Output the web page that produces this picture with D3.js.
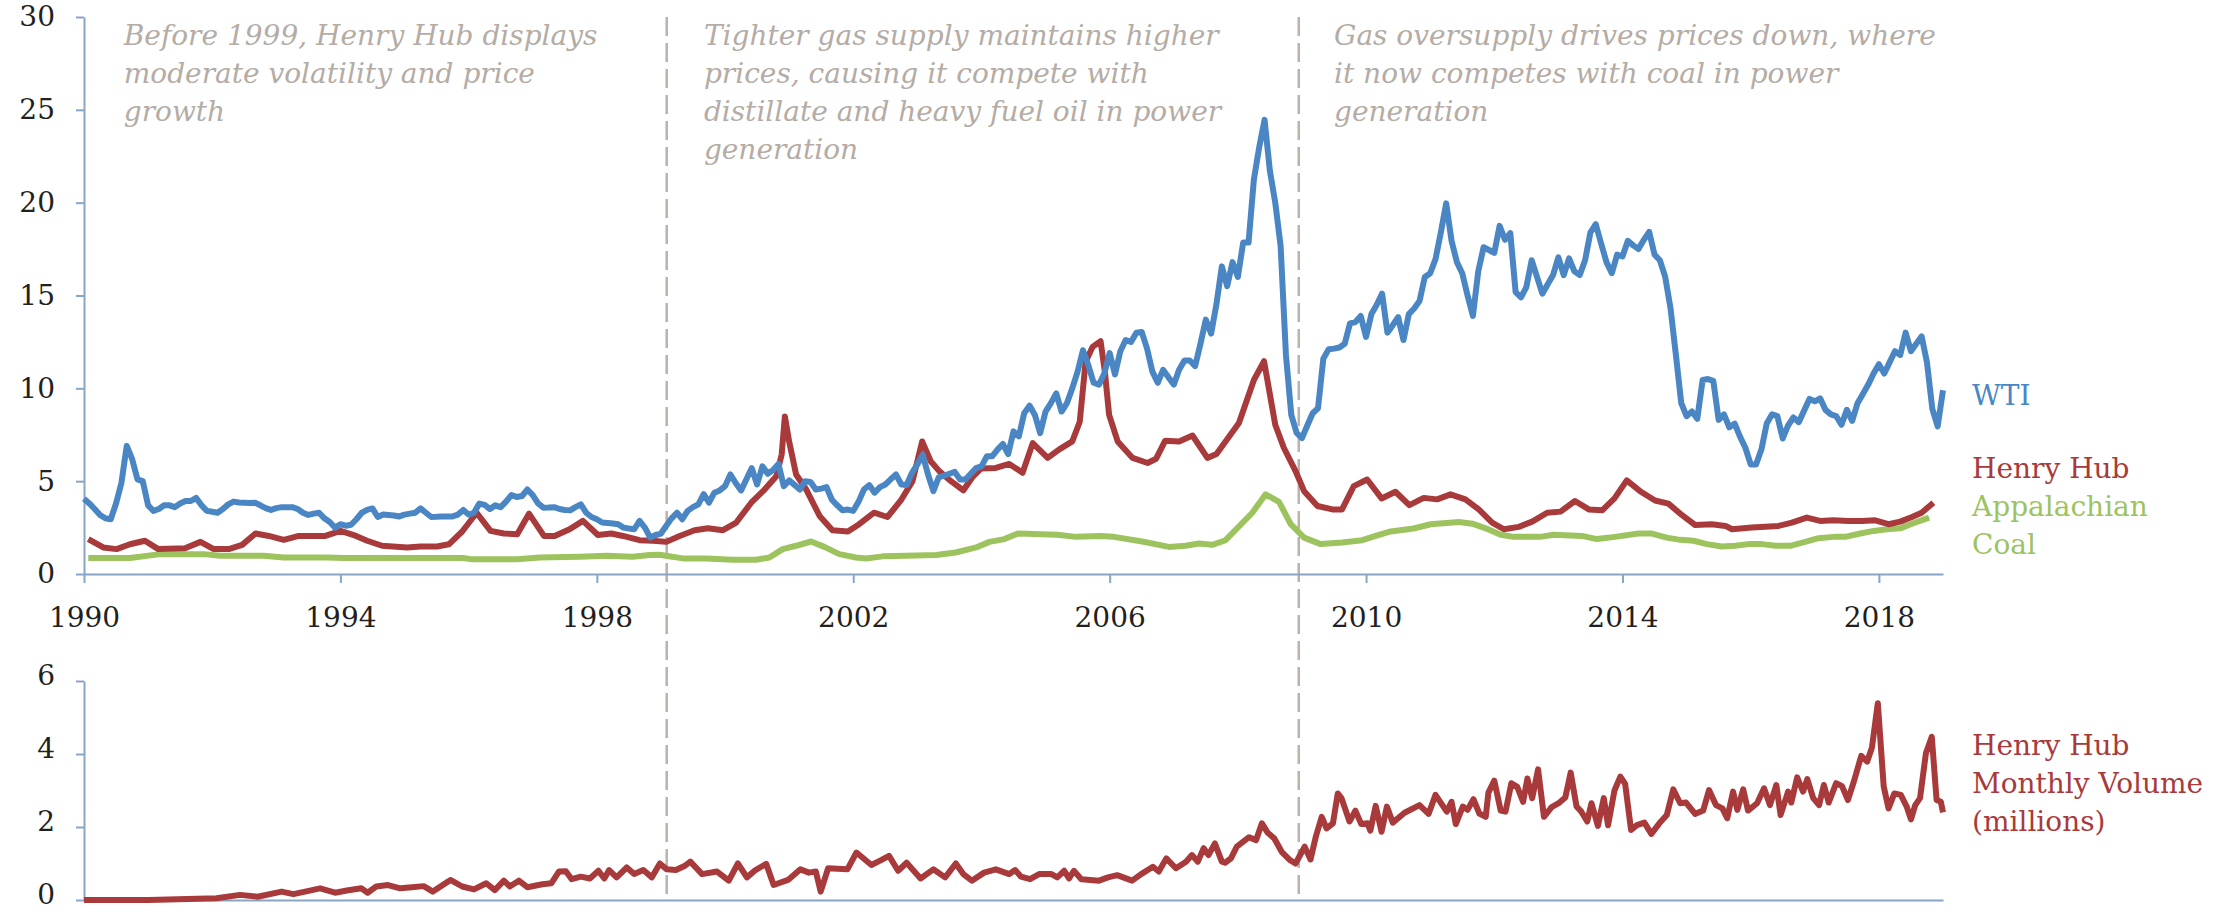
<!DOCTYPE html>
<html>
<head>
<meta charset="utf-8">
<script src="https://cdn.jsdelivr.net/npm/d3@7"></script>
<style>
  body { margin: 0; background: #fff; }
</style>
</head>
<body>
<div class="canvas"></div>
<script>
// x values are months counted from Jan 1990 (0 = Jan 1990)
// WTI, $/MMBtu, one value per month from Jan 1990
const wtiMonthly = [
  4.05, 3.8, 3.5, 3.18, 3.0, 2.95, 3.8, 4.9, 6.9, 6.2, 5.1, 5.0,
  3.7, 3.4, 3.5, 3.7, 3.7, 3.6, 3.8, 3.93, 3.93, 4.1, 3.7, 3.4,
  3.35, 3.3, 3.5, 3.75, 3.9, 3.85, 3.84, 3.82, 3.84, 3.7, 3.55, 3.45,
  3.55, 3.6, 3.6, 3.6, 3.5, 3.3, 3.18, 3.25, 3.3, 3.0, 2.8, 2.5,
  2.68, 2.6, 2.65, 2.95, 3.3, 3.45, 3.53, 3.07, 3.2, 3.18, 3.15, 3.1,
  3.2, 3.25, 3.3, 3.53, 3.3, 3.07, 3.08, 3.1, 3.1, 3.1, 3.2, 3.45,
  3.2, 3.3, 3.79, 3.72, 3.5, 3.7, 3.6, 3.9, 4.25, 4.15, 4.2, 4.55,
  4.25, 3.8, 3.57, 3.58, 3.6, 3.5, 3.45, 3.43, 3.6, 3.75, 3.3, 3.07,
  2.95, 2.77, 2.75, 2.72, 2.68, 2.5, 2.45, 2.41, 2.86, 2.5, 1.96, 2.1,
  2.18, 2.6, 3.0, 3.3, 2.95, 3.4, 3.6, 3.75, 4.3, 3.84, 4.38, 4.5,
  4.73, 5.36, 4.9, 4.5, 5.1, 5.7, 4.82, 5.8, 5.4, 5.6, 5.93, 4.73,
  5.04, 4.8, 4.55, 5.0, 4.96, 4.55, 4.6, 4.68, 4.0, 3.7, 3.43, 3.47,
  3.4, 3.9, 4.55, 4.79, 4.38, 4.68, 4.82, 5.1, 5.36, 4.82, 4.79, 5.45,
  5.9, 6.43, 5.36, 4.46, 5.21, 5.3, 5.4, 5.5, 5.09, 5.09, 5.4, 5.7,
  5.8, 6.34, 6.34, 6.7, 7.0, 6.46, 7.68, 7.41, 8.66, 9.07, 8.57, 7.59,
  8.75, 9.2, 9.73, 8.75, 9.2, 10.0, 10.9, 12.05, 11.25, 10.3, 10.2, 10.8,
  11.9, 10.75, 12.0, 12.6, 12.5, 13.0, 13.04, 12.14, 10.9, 10.3, 11.0, 10.6,
  10.2, 11.0, 11.5, 11.5, 11.2, 12.4, 13.7, 12.95, 14.55, 16.57, 15.5, 16.8,
  16.0, 17.86, 17.86, 21.25, 23.0, 24.46, 21.7, 20.0, 17.68, 11.8, 8.57, 7.6,
  7.32, 8.0, 8.66, 8.93, 11.6, 12.1, 12.14, 12.2, 12.4, 13.5, 13.57, 13.9,
  12.77, 14.0, 14.5, 15.1, 13.0, 13.4, 13.84, 12.6, 14.0, 14.3, 14.7, 16.0,
  16.2, 16.96, 18.4, 19.96, 17.95, 16.8, 16.2, 15.0, 13.9, 16.3, 17.6, 17.45,
  17.3, 18.75, 18.0, 18.36, 15.18, 14.9, 15.45, 16.9, 16.0, 15.1, 15.6, 16.1,
  17.05, 16.1, 17.0, 16.3, 16.1, 16.9, 18.4, 18.84, 17.8, 16.8, 16.2, 17.2,
  17.1, 17.95, 17.7, 17.5, 18.0, 18.43, 17.2, 16.9, 16.0, 14.3, 11.8, 9.2,
  8.5, 8.75, 8.36, 10.45, 10.5, 10.4, 8.3, 8.6, 7.9, 8.1, 7.4, 6.8,
  5.9, 5.9, 6.7, 8.1, 8.6, 8.5, 7.3, 8.0, 8.43, 8.18, 8.8, 9.43,
  9.3, 9.46, 8.84, 8.6, 8.5, 8.04, 8.84, 8.25, 9.2, 9.7, 10.2, 10.8,
  11.3, 10.8, 11.4, 12.0, 11.8, 13.0, 12.0, 12.4, 12.8, 11.4, 8.9, 7.95,
  9.9
];

// Henry Hub spot, [month, $/MMBtu]
const henryHub = [
  [0.8,1.88],[3.6,1.43],[6.1,1.34],[8.6,1.6],[11.4,1.79],[13.9,1.34],[18.9,1.39],[21.8,1.73],
  [24.3,1.34],[27.1,1.34],[29.6,1.57],[32.1,2.18],[34.6,2.05],[37.4,1.84],[40.2,2.05],[45.2,2.05],
  [48,2.32],[50.5,2.1],[53,1.79],[55.8,1.52],[60.5,1.43],[63,1.48],[66.1,1.48],[68.3,1.6],
  [70.8,2.29],[73.5,3.3],[76.1,2.32],[78.6,2.18],[81.1,2.14],[83.3,3.25],[86.1,2.05],[88.1,2.05],
  [90.9,2.41],[93.4,2.86],[96.2,2.1],[98.7,2.18],[100.9,2.05],[104,1.82],[106.5,1.79],[109,1.73],
  [111.5,2.05],[114.3,2.36],[116.8,2.46],[119.6,2.36],[122.1,2.77],[124.9,3.84],[127.4,4.55],[129.6,5.27],
  [130.6,6.43],[131.2,8.48],[132,7.14],[133.3,5.36],[135.2,4.55],[137.7,3.13],[140.1,2.36],[143,2.29],
  [145.1,2.68],[147.9,3.3],[150.4,3.07],[152.9,3.96],[155.1,5.0],[156.9,7.14],[158.5,6.07],[160.1,5.54],
  [162.3,5.0],[164.6,4.5],[166.3,5.21],[167.9,5.68],[170.7,5.71],[173.2,5.93],[175.7,5.45],[177.6,7.05],
  [180.4,6.25],[182.5,6.7],[185,7.14],[186.4,8.2],[187.5,11.43],[188.8,12.23],[190.3,12.54],[191.1,10.9],
  [191.9,8.57],[193.5,7.14],[196.3,6.25],[199.1,5.98],[200.7,6.21],[202.4,7.18],[205,7.14],[207.5,7.46],
  [210.3,6.25],[212,6.46],[216.2,8.13],[219,10.45],[220.9,11.46],[223,8.04],[224.6,6.8],[226.8,5.54],
  [228.4,4.46],[230.9,3.66],[233.7,3.48],[235.5,3.48],[237.7,4.73],[240.2,5.09],[242.9,4.07],[245.5,4.43],
  [248.1,3.71],[250.8,4.1],[253.3,4.02],[255.8,4.29],[258.6,4.02],[261.1,3.48],[263.6,2.77],[265.8,2.41],
  [268.6,2.54],[271.1,2.82],[273.9,3.3],[276.4,3.36],[279.1,3.93],[281.7,3.48],[284.2,3.43],[286.5,4.07],
  [288.8,5.04],[291.3,4.46],[294.1,3.96],[296.6,3.79],[299.1,3.18],[301.6,2.64],[304.7,2.68],[307.3,2.59],
  [308.5,2.41],[312.2,2.5],[317.2,2.59],[319.7,2.77],[322.5,3.04],[325,2.86],[327.5,2.89],[330.3,2.86],
  [332.8,2.86],[335.3,2.89],[337.8,2.68],[340,2.82],[342.2,3.07],[344,3.3],[346.2,3.84]
];

// Appalachian coal, [month, $/MMBtu]
const coal = [
  [0.8,0.86],[8.6,0.86],[14.3,1.07],[22.4,1.07],[25.5,0.98],[33.6,0.98],[37.4,0.89],[45.5,0.89],
  [48.6,0.86],[71,0.86],[72.4,0.8],[81.1,0.8],[85.3,0.89],[92.8,0.93],[97.8,0.98],[102.7,0.93],
  [105.9,1.02],[107.7,1.04],[108.9,0.98],[112.1,0.84],[116.5,0.84],[121.4,0.77],[125.8,0.77],[128.3,0.89],
  [130.8,1.34],[133.3,1.52],[136.1,1.75],[138.6,1.46],[141.4,1.07],[144.5,0.89],[146.4,0.84],[149.5,0.95],
  [153.9,0.98],[159.5,1.02],[163.2,1.16],[167,1.43],[169.5,1.73],[172.3,1.88],[174.8,2.18],[182.2,2.11],
  [185.7,2.0],[190.3,2.05],[192.8,2.0],[198.1,1.75],[203.1,1.46],[206.2,1.52],[208.7,1.64],[211.2,1.57],
  [213.7,1.82],[218.7,3.3],[221.2,4.29],[223.7,3.89],[225.9,2.68],[228.4,1.96],[231.5,1.61],[235.5,1.7],
  [239.3,1.82],[241.8,2.05],[244.6,2.29],[248.9,2.45],[252.1,2.68],[257.4,2.8],[259.9,2.71],[262.4,2.46],
  [265.2,2.11],[267.6,2.0],[272.6,2.0],[275.1,2.11],[280.4,2.05],[283.2,1.88],[286.6,2.0],[291,2.18],
  [293.5,2.18],[296.3,1.96],[298.8,1.84],[301.3,1.79],[303.8,1.61],[306.6,1.48],[309.1,1.52],[311.6,1.61],
  [314.1,1.61],[316.6,1.52],[319.4,1.52],[322.2,1.73],[324.7,1.93],[327.5,2.0],[329.7,2.0],[332.5,2.18],
  [335,2.32],[337.5,2.41],[340,2.46],[342.8,2.77],[345.4,3.04]
];

// Henry Hub futures monthly volume (millions), [month, value]
const hhVolume = [
  [0,0],[12,0],[24.8,0.05],[29.2,0.14],[32.5,0.09],[37,0.23],[39.2,0.16],[41.4,0.23],[44.2,0.32],[47,0.2],
  [49.2,0.26],[51.9,0.32],[53.1,0.2],[54.7,0.37],[56.9,0.41],[59.2,0.32],[61.4,0.35],[63.6,0.38],[65.3,0.23],
  [68.6,0.55],[70.8,0.37],[73,0.29],[75.3,0.46],[76.9,0.27],[78.6,0.53],[79.7,0.37],[81.4,0.53],[83,0.35],
  [85.8,0.43],[87.5,0.46],[88.9,0.78],[90.2,0.79],[91.3,0.57],[93,0.64],[94.7,0.59],[96.3,0.8],[97.4,0.59],
  [98.3,0.82],[99.7,0.62],[101.6,0.89],[103,0.71],[104.7,0.82],[106.3,0.62],[107.8,1.0],[109.1,0.84],
  [110.8,0.82],[112.4,0.93],[113.5,1.05],[115.7,0.71],[118.5,0.78],[120.7,0.53],[122.4,1.0],[124.1,0.62],
  [125.7,0.82],[127.7,0.99],[129.1,0.41],[131.8,0.55],[134.1,0.84],[135.7,0.75],[137,0.78],[137.9,0.23],
  [139.3,0.87],[142.9,0.84],[144.6,1.3],[147.4,0.96],[149.3,1.1],[150.7,1.21],[152.4,0.8],[154,1.02],
  [156.6,0.59],[159,0.84],[161.2,0.62],[163.2,1.0],[164.6,0.71],[166.2,0.53],[168.5,0.75],[170.7,0.84],
  [173.2,0.71],[174.3,0.82],[175.4,0.64],[177.1,0.57],[178.8,0.71],[181.1,0.71],[182.2,0.62],[183.5,0.8],
  [184.4,0.59],[185.3,0.8],[186.7,0.57],[190,0.53],[191.7,0.62],[193.4,0.68],[196.2,0.53],[197.9,0.71],
  [200.1,0.91],[201.2,0.78],[202.6,1.14],[204.4,0.87],[206.3,1.05],[207.4,1.23],[208.5,1.05],[209.6,1.42],
  [210.5,1.23],[211.7,1.55],[213,1.05],[213.6,1.02],[214.7,1.14],[215.8,1.46],[218.1,1.72],[219.4,1.64],
  [220.5,2.1],[221.6,1.84],[222.8,1.69],[224.2,1.32],[225.7,1.1],[226.8,1.0],[228.5,1.46],[229.6,1.11],
  [230.6,1.74],[231.7,2.28],[232.6,1.96],[233.8,2.1],[234.7,2.92],[235.4,2.79],[236.9,2.15],[238,2.45],
  [239.1,2.08],[240.3,2.1],[240.8,1.9],[241.8,2.58],[242.9,1.87],[243.9,2.56],[245,2.12],[247.2,2.39],
  [250,2.6],[251.7,2.36],[253,2.88],[255.1,2.42],[256,2.69],[256.8,2.08],[258.1,2.56],[259,2.47],
  [260.1,2.76],[261.2,2.37],[262.4,2.28],[262.9,2.94],[264,3.27],[265.2,2.45],[266.1,2.42],[267.2,3.2],
  [268.3,3.1],[269.4,2.69],[270.2,3.33],[271.1,2.79],[272.2,3.58],[273.3,2.28],[274.7,2.54],[276.2,2.67],
  [277.3,2.81],[278.3,3.49],[279.4,2.56],[280.3,2.42],[281.4,2.15],[282.2,2.65],[283.4,2.03],[284.5,2.79],
  [285.3,2.05],[286.5,3.0],[287.6,3.38],[288.5,3.18],[289.6,1.92],[290.7,2.05],[292.1,2.12],[293.4,1.81],
  [294.9,2.1],[296.3,2.33],[297.5,3.03],[298.8,2.65],[299.9,2.67],[301.6,2.36],[303.1,2.45],[304.2,3.01],
  [305.5,2.6],[306.7,2.51],[307.6,2.24],[308.7,2.97],[309.5,2.47],[310.6,3.03],[311.5,2.45],[313.2,2.65],
  [314.5,3.06],[315.6,2.6],[316.8,3.15],[317.6,2.33],[319,2.97],[319.6,2.67],[320.7,3.36],[321.8,2.97],
  [322.6,3.31],[323.7,2.79],[324.8,2.6],[325.7,3.15],[326.6,2.67],[328,3.2],[329.1,3.12],[330.2,2.74],
  [331.3,3.24],[332.7,3.95],[333.8,3.79],[334.7,4.18],[335.8,5.39],[336.9,3.11],[337.8,2.51],[338.9,2.92],
  [340.1,2.88],[341.2,2.56],[342,2.21],[342.8,2.6],[343.7,2.79],[344.8,4.02],[345.9,4.47],[346.8,2.74],
  [347.6,2.69],[348,2.4]
];

const yearTicks = [1990, 1994, 1998, 2002, 2006, 2010, 2014, 2018];
const priceTicks = [0, 5, 10, 15, 20, 25, 30];
const volumeTicks = [0, 2, 4, 6];
const dividers = [1999.09, 2008.95];
const annotations = [
  { year: 1990.62, lines: ['Before 1999, Henry Hub displays', 'moderate volatility and price', 'growth'] },
  { year: 1999.67, lines: ['Tighter gas supply maintains higher', 'prices, causing it compete with', 'distillate and heavy fuel oil in power', 'generation'] },
  { year: 2009.5, lines: ['Gas oversupply drives prices down, where', 'it now competes with coal in power', 'generation'] }
];

const blue = '#4a86c4', red = '#a93a3b', green = '#9dc35f';
const axisColor = '#88a5c6', noteColor = '#b4aca5', inkColor = '#231f20';
const font = "'DejaVu Serif', serif";

const svg = d3.select('.canvas')
  .append('svg')
    .attr('width', 2239)
    .attr('height', 911)
    .style('background-color', 'white');

const x = d3.scaleLinear().domain([1990, 2019]).range([84, 1943]);
const yTop = d3.scaleLinear().domain([0, 30]).range([574, 17]);
const yBot = d3.scaleLinear().domain([0, 6]).range([900, 681]);
const monthToYear = m => 1990 + m / 12;

function styleAxis(g) {
  g.select('.domain').attr('stroke', axisColor).attr('stroke-width', 2);
  g.selectAll('.tick line').attr('stroke', axisColor).attr('stroke-width', 2);
  g.selectAll('.tick text')
    .attr('fill', inkColor)
    .style('font-family', font)
    .style('font-size', '28px');
}

// divider lines
svg.selectAll('.divider')
  .data(dividers)
  .enter()
  .append('line')
    .attr('x1', d => x(d)).attr('x2', d => x(d))
    .attr('y1', yTop(30)).attr('y2', yBot(0))
    .attr('stroke', '#bbb3ab')
    .attr('stroke-width', 2.5)
    .attr('stroke-dasharray', '19 7');

// top axes
svg.append('g')
  .attr('transform', `translate(0,${yTop(0)})`)
  .call(d3.axisBottom(x).tickValues(yearTicks).tickFormat(d3.format('d')).tickSize(9).tickSizeOuter(0).tickPadding(24))
  .call(styleAxis);

svg.append('g')
  .attr('transform', `translate(${x(1990)},0)`)
  .call(d3.axisLeft(yTop).tickValues(priceTicks).tickFormat(d3.format('d')).tickSize(8).tickSizeOuter(0).tickPadding(21))
  .call(styleAxis);

// bottom axes
svg.append('g')
  .attr('transform', `translate(0,${yBot(0)})`)
  .call(d3.axisBottom(x).tickValues([]).tickSizeOuter(0))
  .call(styleAxis);

svg.append('g')
  .attr('transform', `translate(${x(1990)},0)`)
  .call(d3.axisLeft(yBot).tickValues(volumeTicks).tickFormat(d3.format('d')).tickSize(8).tickSizeOuter(0).tickPadding(21))
  .call(styleAxis)
  .selectAll('.tick text')
    .attr('dy', '0.12em');

// price lines
const priceLine = d3.line()
  .x(d => x(monthToYear(d[0])))
  .y(d => yTop(d[1]));

const priceSeries = [
  { data: coal, color: green },
  { data: henryHub, color: red },
  { data: wtiMonthly.map((v, i) => [i, v]), color: blue }
];

svg.selectAll('.price')
  .data(priceSeries)
  .enter()
  .append('path')
    .attr('d', d => priceLine(d.data))
    .attr('fill', 'none')
    .attr('stroke', d => d.color)
    .attr('stroke-width', 6)
    .attr('stroke-linejoin', 'round');

// volume line
const volLine = d3.line()
  .x(d => x(monthToYear(d[0])))
  .y(d => yBot(d[1]));

svg.append('path')
  .attr('d', volLine(hhVolume))
  .attr('fill', 'none')
  .attr('stroke', red)
  .attr('stroke-width', 6)
  .attr('stroke-linejoin', 'round');

// annotations
annotations.forEach(a => {
  const t = svg.append('text')
    .attr('x', x(a.year))
    .attr('y', 45)
    .style('font-family', font)
    .style('font-style', 'italic')
    .style('font-size', '28px')
    .attr('fill', noteColor);
  t.selectAll('tspan')
    .data(a.lines)
    .enter()
    .append('tspan')
      .attr('x', x(a.year))
      .attr('dy', (d, i) => i === 0 ? 0 : 38)
      .text(d => d);
});

// series labels on the right
const labels = [
  { lines: ['WTI'], y: 405, color: blue },
  { lines: ['Henry Hub'], y: 478, color: red },
  { lines: ['Appalachian', 'Coal'], y: 516, color: green },
  { lines: ['Henry Hub', 'Monthly Volume', '(millions)'], y: 755, color: red }
];

labels.forEach(l => {
  const t = svg.append('text')
    .attr('x', 1972)
    .attr('y', l.y)
    .style('font-family', font)
    .style('font-size', '28px')
    .attr('fill', l.color);
  t.selectAll('tspan')
    .data(l.lines)
    .enter()
    .append('tspan')
      .attr('x', 1972)
      .attr('dy', (d, i) => i === 0 ? 0 : 38)
      .text(d => d);
});
</script>
</body>
</html>
